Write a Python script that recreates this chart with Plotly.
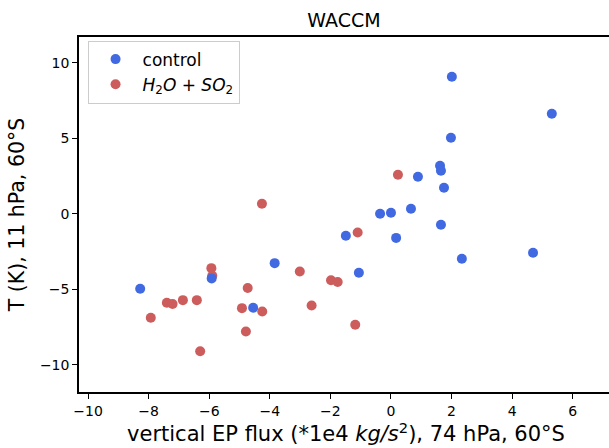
import plotly.graph_objects as go

control_x = [2.01, 5.31, 1.98, 1.62, 1.65, 0.89, 1.75, -0.36, 0.0, 0.66, 1.65, 0.17, 2.34, 4.69, -1.49, -1.06, -8.28, -5.92, -3.84, -4.55]
control_y = [9.07, 6.62, 5.03, 3.18, 2.85, 2.45, 1.72, 0.0, 0.07, 0.33, -0.73, -1.6, -2.98, -2.58, -1.46, -3.91, -4.97, -4.28, -3.27, -6.22]

h2o_x = [-4.26, -5.93, -5.90, -3.01, -1.98, -1.76, -2.62, -4.73, -4.92, -4.25, -4.79, -6.30, -7.93, -7.40, -7.21, -6.87, -6.41, -1.10, -1.18, 0.23]
h2o_y = [0.66, -3.6, -4.1, -3.82, -4.4, -4.52, -6.07, -4.92, -6.25, -6.47, -7.79, -9.1, -6.89, -5.89, -5.98, -5.72, -5.72, -1.24, -7.35, 2.58]

x_ticks = [-10, -8, -6, -4, -2, 0, 2, 4, 6]
y_ticks = [-10, -5, 0, 5, 10]

fig = go.Figure()
fig.add_trace(go.Scatter(
    x=h2o_x, y=h2o_y, mode="markers", name="<i>H</i><sub>2</sub><i>O</i> + <i>SO</i><sub>2</sub>",
    marker=dict(color="#CD5C5C", size=10, line=dict(width=0)), legendrank=2,
))
fig.add_trace(go.Scatter(
    x=control_x, y=control_y, mode="markers", name="control",
    marker=dict(color="#4169E1", size=10, line=dict(width=0)), legendrank=1,
))

W = 613
axis_font = dict(family="DejaVu Sans", size=14, color="black")
fig.update_layout(
    width=W, height=448,
    margin=dict(l=79, r=0, t=37, b=56),
    paper_bgcolor="white", plot_bgcolor="white",
    font=dict(family="DejaVu Sans", color="black"),
    title=dict(text="WACCM", x=344/W, xanchor="center", y=1 - 20/448, yanchor="middle",
               font=dict(size=19, family="DejaVu Sans", color="black")),
    showlegend=True,
    legend=dict(x=0.016, y=0.99, xanchor="left", yanchor="top",
                bordercolor="#cccccc", borderwidth=1, bgcolor="rgba(255,255,255,0.8)",
                font=dict(size=17, family="DejaVu Sans", color="black"),
                itemwidth=44, tracegroupgap=2),
    xaxis=dict(range=[-10.3, 7.33], tickvals=x_ticks, ticktext=[("−" + str(-v)) if v < 0 else str(v) for v in x_ticks],
               showgrid=False, zeroline=False, showline=True, linecolor="black", linewidth=1.5, mirror=True,
               automargin=False,
               ticks="outside", ticklen=5, tickwidth=1.2, tickcolor="black", tickfont=axis_font,
               title=dict(text="vertical EP flux (*1e4 <i>kg/s</i><sup>2</sup>), 74 hPa, 60°S",
                          font=dict(size=21, family="DejaVu Sans", color="black"), standoff=6)),
    yaxis=dict(range=[-11.8, 11.7], tickvals=y_ticks, ticktext=[("−" + str(-v)) if v < 0 else str(v) for v in y_ticks],
               showgrid=False, zeroline=False, showline=True, linecolor="black", linewidth=1.5, mirror=False,
               automargin=False,
               ticks="outside", ticklen=5, tickwidth=1.2, tickcolor="black", tickfont=axis_font,
               title=dict(text="T (K), 11 hPa, 60°S",
                          font=dict(size=20.5, family="DejaVu Sans", color="black"), standoff=10)),
)

fig.write_html("out.html", config={"displayModeBar": False},
               post_script="document.body.style.margin='0';document.body.style.overflow='hidden';")
